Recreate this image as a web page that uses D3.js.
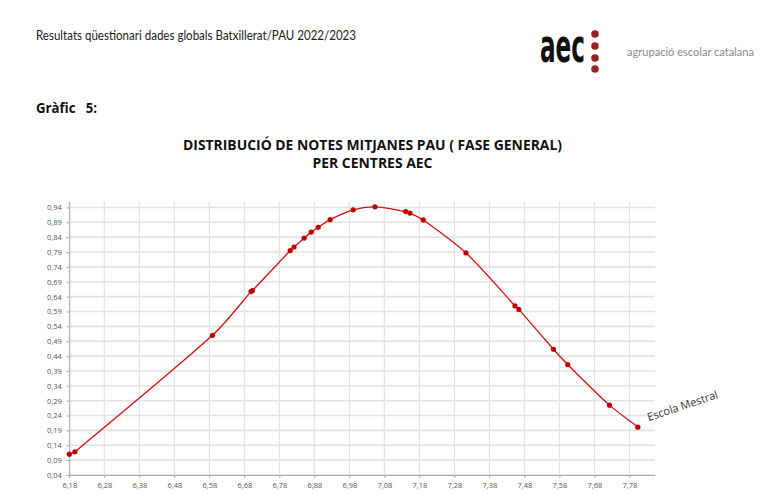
<!DOCTYPE html>
<html><head><meta charset="utf-8">
<script src="https://cdn.jsdelivr.net/npm/d3@7"></script>
<style>body{margin:0;background:#fff}svg{display:block}</style>
</head><body>
<svg id="c" width="768" height="494"></svg>
<script>
// Data
const notes = [6.180,6.196,6.589,6.699,6.703,6.811,6.822,6.851,6.871,6.891,6.925,6.991,7.053,7.141,7.153,7.191,7.313,7.453,7.464,7.563,7.604,7.723,7.804];
const densitat = [0.110,0.118,0.510,0.657,0.660,0.795,0.807,0.837,0.857,0.873,0.899,0.932,0.942,0.926,0.921,0.898,0.787,0.609,0.597,0.463,0.411,0.275,0.201];
const xTicks = [6.18,6.28,6.38,6.48,6.58,6.68,6.78,6.88,6.98,7.08,7.18,7.28,7.38,7.48,7.58,7.68,7.78];
const yTicks = [0.04,0.09,0.14,0.19,0.24,0.29,0.34,0.39,0.44,0.49,0.54,0.59,0.64,0.69,0.74,0.79,0.84,0.89,0.94];
const labelText = "Escola Mestral";
const headerText = "Resultats qüestionari dades globals Batxillerat/PAU 2022/2023";
const titleLines = ["DISTRIBUCIÓ DE NOTES MITJANES PAU ( FASE GENERAL)","PER CENTRES AEC"];

const svg = d3.select("#c");
const L=69.3, R=655, T=201.5, B=475;
const x = d3.scaleLinear().domain([6.18,7.853]).range([L,R]);
const y = d3.scaleLinear().domain([0.04,0.96]).range([B,T]);
const fmt = d => d.toFixed(2).replace(".",",");

// header
svg.append("text").attr("x",36).attr("y",40).attr("font-family","Lato, 'Open Sans', sans-serif")
  .attr("font-size",12.5).attr("fill","#222").attr("textLength",320).attr("lengthAdjust","spacingAndGlyphs").text(headerText);
svg.append("text").attr("x",36).attr("y",113).attr("font-family","'Open Sans', sans-serif").attr("font-weight","bold")
  .attr("font-size",13.5).attr("fill","#111").attr("textLength",61).attr("lengthAdjust","spacingAndGlyphs")
  .style("white-space","pre").text("Gràfic   5:");
// logo
svg.append("text").attr("x",540).attr("y",62).attr("font-family","'DejaVu Sans Condensed','Liberation Sans Narrow',sans-serif")
  .attr("font-weight","bold").attr("font-size",46).attr("fill","#111").attr("textLength",45).attr("lengthAdjust","spacingAndGlyphs").text("aec");
[34,46,58,69].forEach(cy=>svg.append("circle").attr("cx",595).attr("cy",cy).attr("r",3.8).attr("fill","#9b2422"));
svg.append("text").attr("x",627).attr("y",56).attr("font-family","Lato, sans-serif").attr("font-size",12)
  .attr("fill","#8a8a8a").attr("textLength",127).attr("lengthAdjust","spacingAndGlyphs").text("agrupació escolar catalana");
// title
titleLines.forEach((t,i)=>svg.append("text").attr("x",372.5).attr("y",150+i*18).attr("text-anchor","middle")
  .attr("font-family","'Open Sans', sans-serif").attr("font-weight","bold").attr("font-size",13.5).attr("fill","#111")
  .attr("textLength",i===0?379:120).attr("lengthAdjust","spacingAndGlyphs").text(t));

// grid
const g = svg.append("g");
g.selectAll(".hg").data(yTicks).join("line").attr("x1",L).attr("x2",R).attr("y1",d=>y(d)).attr("y2",d=>y(d))
  .attr("stroke","#e2e2e2").attr("stroke-width",1.6);
g.selectAll(".vg").data(xTicks).join("line").attr("x1",d=>x(d)).attr("x2",d=>x(d)).attr("y1",T).attr("y2",B)
  .attr("stroke","#e2e2e2").attr("stroke-width",1.2);

// axes
const xa = svg.append("g").attr("transform",`translate(0,${B})`).call(d3.axisBottom(x).tickValues(xTicks).tickFormat(fmt).tickSize(3).tickSizeOuter(0));
const ya = svg.append("g").attr("transform",`translate(${L},0)`).call(d3.axisLeft(y).tickValues(yTicks).tickFormat(fmt).tickSize(3).tickSizeOuter(0));
[xa,ya].forEach(a=>{a.select(".domain").attr("stroke","#aaa");a.selectAll(".tick line").attr("stroke","#aaa");
  a.selectAll("text").attr("font-family","'Open Sans', sans-serif").attr("font-size",7.5).attr("fill","#555");});
xa.selectAll("text").attr("dy","0.9em");
ya.selectAll("text").attr("dx","-0.2em");

// smoothed line (Catmull-Rom style with clamped handles, like spreadsheet smoothing)
const pts = notes.map((n,i)=>[n,densitat[i]]);
const P = pts.map(d=>[x(d[0]),y(d[1])]);
function handle(v, maxLen){
  const l = Math.hypot(v[0],v[1]);
  if (l>maxLen && l>0){ const s=maxLen/l; return [v[0]*s,v[1]*s]; }
  return v;
}
const tang = P.map((p,i)=>{
  const a = P[Math.max(0,i-1)], b = P[Math.min(P.length-1,i+1)];
  const k = (i===0||i===P.length-1)?1/3:1/6;
  return [(b[0]-a[0])*k,(b[1]-a[1])*k];
});
const path = d3.path();
path.moveTo(P[0][0],P[0][1]);
for(let i=0;i<P.length-1;i++){
  const p0=P[i], p1=P[i+1];
  const seg = Math.hypot(p1[0]-p0[0],p1[1]-p0[1]);
  const h0 = handle(tang[i], seg*0.3), h1 = handle(tang[i+1], seg*0.3);
  path.bezierCurveTo(p0[0]+h0[0],p0[1]+h0[1],p1[0]-h1[0],p1[1]-h1[1],p1[0],p1[1]);
}
svg.append("path").attr("d",path.toString()).attr("fill","none").attr("stroke","#d01010").attr("stroke-width",1.3);
svg.selectAll(".pt").data(pts).join("circle").attr("cx",d=>x(d[0])).attr("cy",d=>y(d[1])).attr("r",2.6).attr("fill","#c00000");

// label
const last = pts[pts.length-1];
svg.append("text").attr("transform",`translate(${x(last[0])+11},${y(last[1])-6}) rotate(-18.5)`)
  .attr("font-family","'Open Sans', sans-serif").attr("font-size",11).attr("fill","#333").text(labelText);
</script>
</body></html>
